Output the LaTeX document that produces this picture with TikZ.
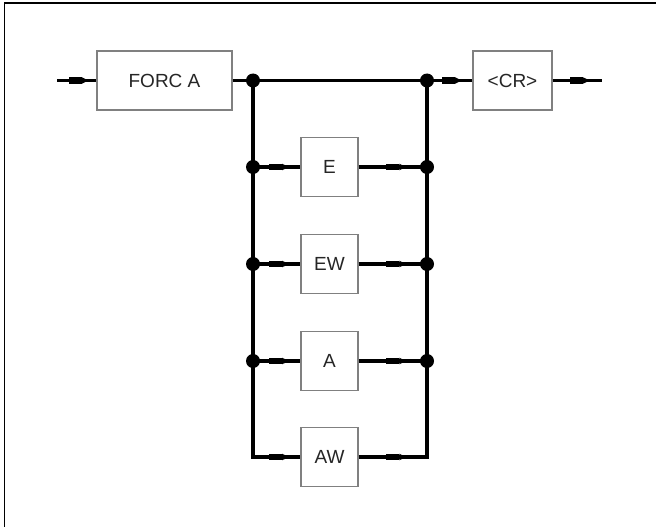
\documentclass[tikz,border=0pt]{standalone}
\usepackage{fontspec}
\setmainfont{Liberation Sans}
\usetikzlibrary{decorations.markings}
\begin{document}
\begin{tikzpicture}[x=1pt,y=-1pt,
  box/.style={draw=black!50, line width=1.4pt, fill=white, text=black!85,
    font=\fontsize{19}{22}\selectfont, minimum height=59pt, inner sep=0pt},
  conn/.style={line width=3.2pt},
  flow/.style={conn, postaction={decorate},
    decoration={markings, mark=at position 0.55 with {
      \fill (-10pt,-3.3pt) rectangle (3pt,3.3pt);
      \fill (3pt,-3.3pt) -- (10pt,0pt) -- (3pt,3.3pt) -- cycle;}}},
  dot/.style={circle, fill=black, inner sep=0pt, minimum size=14pt}]
\useasboundingbox (0,0) rectangle (656,527);
\draw[line width=1.8pt] (4.5,527) -- (4.5,3) -- (656,3);
% boxes
\node[box, minimum width=135pt] (forc) at (164.5,80.5) {FORC A};
\node[box, minimum width=79pt] (cr) at (512.5,80.5) {<CR>};
\node[box, minimum width=57pt] (e) at (329.5,167) {E};
\node[box, minimum width=57pt] (ew) at (329.5,264) {EW};
\node[box, minimum width=57pt] (a) at (329.5,361) {A};
\node[box, minimum width=57pt] (aw) at (329.5,457) {AW};
% junctions
\coordinate (start) at (57,80.5);
\coordinate (end) at (602,80.5);
\coordinate (L0) at (253,80.5);
\coordinate (R0) at (427,80.5);
\coordinate (L1) at (253,167);
\coordinate (R1) at (427,167);
\coordinate (L2) at (253,264);
\coordinate (R2) at (427,264);
\coordinate (L3) at (253,361);
\coordinate (R3) at (427,361);
\coordinate (CL) at (253,457);
\coordinate (CR) at (427,457);
% connectors
\draw[flow] (start) -- (forc.west);
\draw[conn] (forc.east) -- (L0) -- (R0);
\draw[flow] (R0) -- (cr.west);
\draw[flow] (cr.east) -- (end);
\draw[conn, line cap=rect] (L0) -- (CL);
\draw[conn, line cap=rect] (R0) -- (CR);
\draw[flow] (L1) -- (e.west);
\draw[flow] (e.east) -- (R1);
\draw[flow] (L2) -- (ew.west);
\draw[flow] (ew.east) -- (R2);
\draw[flow] (L3) -- (a.west);
\draw[flow] (a.east) -- (R3);
\draw[flow] (CL) -- (aw.west);
\draw[flow] (aw.east) -- (CR);
% dots
\foreach \p in {L0,R0,L1,R1,L2,R2,L3,R3} \node[dot] at (\p) {};
\end{tikzpicture}
\end{document}
